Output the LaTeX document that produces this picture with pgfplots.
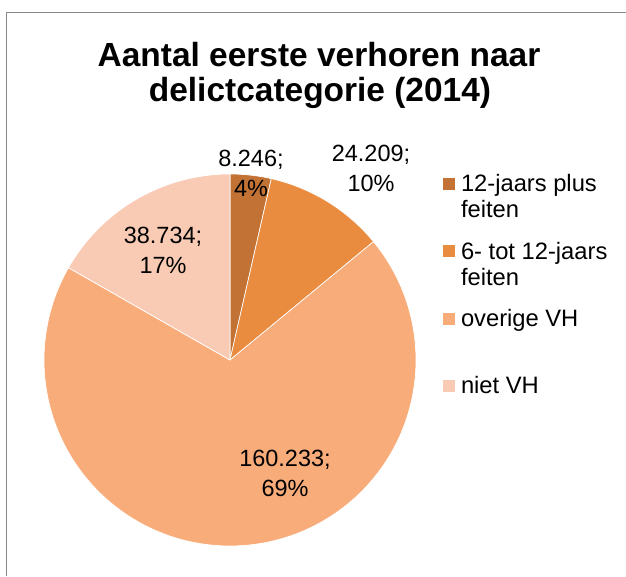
\documentclass[border=0pt]{standalone}
\usepackage{pgfplots}
\pgfplotsset{compat=1.18}
\usepackage{fontspec}
\setmainfont{Liberation Sans}
\definecolor{c1}{RGB}{193,114,52}
\definecolor{c2}{RGB}{233,140,64}
\definecolor{c3}{RGB}{248,172,122}
\definecolor{c4}{RGB}{249,203,180}
\definecolor{framegray}{RGB}{137,137,137}
\newcommand\ttl{\fontsize{25.1pt}{26.3pt}\selectfont\bfseries}
\newcommand\lbl{\fontsize{17.6pt}{22.5pt}\selectfont}
\newcommand\lgdfont{\fontsize{17.8pt}{19.5pt}\selectfont}
\newcommand\lgd[1]{\begin{tabular}[t]{@{}l@{}}#1\end{tabular}}
\begin{document}
\begin{tikzpicture}
% values (in thousands)
\pgfmathsetmacro\va{8.246}
\pgfmathsetmacro\vb{24.209}
\pgfmathsetmacro\vc{160.233}
\pgfmathsetmacro\vd{38.734}
\pgfmathsetmacro\tot{\va+\vb+\vc+\vd}
\pgfmathsetmacro\aA{90}
\pgfmathsetmacro\aB{\aA-360*(\va/\tot)}
\pgfmathsetmacro\aC{\aB-360*(\vb/\tot)}
\pgfmathsetmacro\aD{\aC-360*(\vc/\tot)}
\pgfmathsetmacro\aE{\aD-360*(\vd/\tot)}
\begin{axis}[
  x=0.75pt, y=0.75pt,
  xmin=0, xmax=626, ymin=0, ymax=576,
  hide axis, clip=false,
  anchor=origin, at={(0,0)},
  legend image code/.code={\fill[#1,draw=none] (0pt,1.5pt) rectangle (9pt,10.5pt);},
  legend style={at={(0.70767,0.69913)}, anchor=north west, draw=none, fill=none,
    inner sep=0pt, outer sep=0pt, row sep=0pt, column sep=4.5pt, font=\lgdfont,
    cells={anchor=base west},
    nodes={inner sep=0pt, anchor=base west, text height=14pt, text depth=36.5pt}},
]
\addplot[fill=c1, draw=white, line width=0.5pt, domain=\aB:\aA, samples=20, variable=\t]
  ({230+186*cos(\t)},{216+186*sin(\t)}) -- (230,216) -- cycle;
\addlegendentry{\lgd{12-jaars plus\\feiten}}
\addplot[fill=c2, draw=white, line width=0.5pt, domain=\aC:\aB, samples=40, variable=\t]
  ({230+186*cos(\t)},{216+186*sin(\t)}) -- (230,216) -- cycle;
\addlegendentry{\lgd{6- tot 12-jaars\\feiten}}
\addplot[fill=c3, draw=white, line width=0.5pt, domain=\aD:\aC, samples=150, variable=\t]
  ({230+186*cos(\t)},{216+186*sin(\t)}) -- (230,216) -- cycle;
\addlegendentry{\lgd{overige VH}}
\addplot[fill=c4, draw=white, line width=0.5pt, domain=\aE:\aD, samples=50, variable=\t]
  ({230+186*cos(\t)},{216+186*sin(\t)}) -- (230,216) -- cycle;
\addlegendentry{\lgd{niet VH}}
% data labels
\node[font=\lbl, align=center] at (251,402.7) {8.246;\\4\%};
\node[font=\lbl, align=center] at (371,407.7) {24.209;\\10\%};
\node[font=\lbl, align=center] at (285,102.3) {160.233;\\69\%};
\node[font=\lbl, align=center] at (163,325.3) {38.734;\\17\%};
% title
\node[font=\ttl, anchor=base] at (319,509) {Aantal eerste verhoren naar};
\node[font=\ttl, anchor=base] at (320,474) {delictcategorie (2014)};
% chart frame (left and top edges visible)
\draw[framegray, line width=1.1pt] (6.7,0) -- (6.7,563.3) -- (626,563.3);
\end{axis}
\pgfresetboundingbox
\path (0,0) rectangle (469.5pt,432pt);
\end{tikzpicture}
\end{document}
